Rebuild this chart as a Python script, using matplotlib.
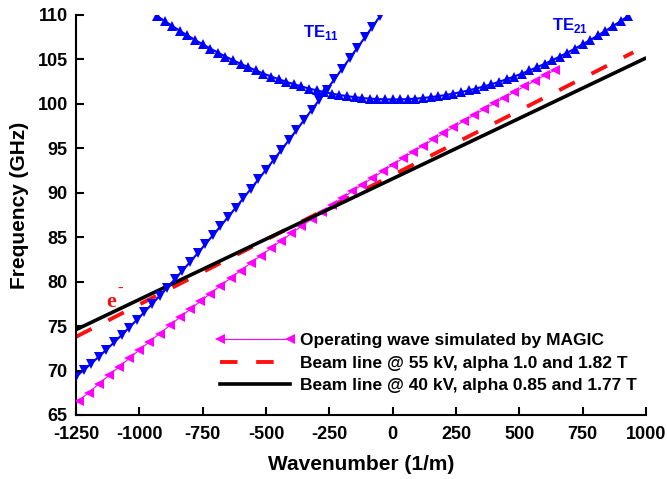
import matplotlib
matplotlib.use("Agg")
import matplotlib.pyplot as plt

plt.rcParams['font.family'] = ['Liberation Sans', 'DejaVu Sans']
plt.rcParams['font.weight'] = 'bold'
plt.rcParams['axes.unicode_minus'] = False
plt.rcParams['mathtext.fontset'] = 'custom'
plt.rcParams['mathtext.rm'] = 'Liberation Sans:bold'
plt.rcParams['mathtext.bf'] = 'Liberation Sans:bold'

# TE11 mode (down triangles)
k_te11 = [-1250, -1220, -1190, -1160, -1130, -1100, -1070, -1040, -1010, -980,
          -950, -920, -890, -860, -830, -800, -770, -740, -710, -680,
          -650, -620, -590, -560, -530, -500, -470, -440, -410, -380,
          -350, -320, -290, -260, -230, -200, -170, -140, -110, -80, -50]
f_te11 = [69.31, 70.04, 70.79, 71.56, 72.35, 73.16, 73.99, 74.84, 75.70, 76.58,
          77.48, 78.40, 79.33, 80.27, 81.23, 82.21, 83.19, 84.19, 85.20, 86.23,
          87.26, 88.31, 89.37, 90.43, 91.51, 92.60, 93.69, 94.80, 95.91, 97.04,
          98.17, 99.31, 100.45, 101.61, 102.77, 103.93, 105.11, 106.29, 107.47, 108.67, 109.87]

# TE21 mode (up triangles)
k_te21 = [-930, -900, -870, -840, -810, -780, -750, -720, -690, -660,
          -630, -600, -570, -540, -510, -480, -450, -420, -390, -360,
          -330, -300, -270, -240, -210, -180, -150, -120, -90, -60, -30,
          0, 30, 60, 90, 120, 150, 180, 210, 240, 270, 300,
          330, 360, 390, 420, 450, 480, 510, 540, 570, 600,
          630, 660, 690, 720, 750, 780, 810, 840, 870, 900, 930]
f_te21 = [109.89, 109.32, 108.76, 108.22, 107.70, 107.19, 106.70, 106.23, 105.77, 105.33,
          104.91, 104.51, 104.13, 103.76, 103.41, 103.08, 102.78, 102.48, 102.21, 101.96,
          101.73, 101.52, 101.33, 101.15, 101.00, 100.87, 100.76, 100.66, 100.59, 100.54, 100.51,
          100.50, 100.51, 100.54, 100.59, 100.66, 100.76, 100.87, 101.00, 101.15, 101.33, 101.52,
          101.73, 101.96, 102.21, 102.48, 102.78, 103.08, 103.41, 103.76, 104.13, 104.51,
          104.91, 105.33, 105.77, 106.23, 106.70, 107.19, 107.70, 108.22, 108.76, 109.32, 109.89]

# operating wave simulated by MAGIC
k_magic = [-1240, -1200, -1160, -1120, -1080, -1040, -1000, -960, -920, -880,
           -840, -800, -760, -720, -680, -640, -600, -560, -520, -480,
           -440, -400, -360, -320, -280, -240, -200, -160, -120, -80,
           -40, 0, 40, 80, 120, 160, 200, 240, 280, 320,
           360, 400, 440, 480, 520, 560, 600, 640]
f_magic = [66.55, 67.53, 68.50, 69.46, 70.42, 71.37, 72.31, 73.24, 74.16, 75.07,
           75.98, 76.88, 77.77, 78.65, 79.53, 80.39, 81.25, 82.10, 82.94, 83.77,
           84.60, 85.42, 86.23, 87.03, 87.82, 88.60, 89.38, 90.15, 90.91, 91.66,
           92.40, 93.14, 93.87, 94.59, 95.30, 96.00, 96.69, 97.38, 98.06, 98.73,
           99.39, 100.05, 100.69, 101.33, 101.96, 102.58, 103.20, 103.80]

# beam lines
k_beam55 = [-1250, 950]
f_beam55 = [73.8, 105.8]
k_beam40 = [-1250, 995]
f_beam40 = [74.6, 105.1]

labels = ['Operating wave simulated by MAGIC',
          'Beam line @ 55 kV, alpha 1.0 and 1.82 T',
          'Beam line @ 40 kV, alpha 0.85 and 1.77 T']

fig = plt.figure(figsize=(6.67, 4.79), dpi=100)
ax = fig.add_axes([76/667, 64/479, 570/667, 400/479])

ax.plot(k_beam55, f_beam55, color='#ff1010', lw=2.8, dashes=(4.5, 4.8), zorder=2, label=labels[1])
ax.plot(k_magic, f_magic, color='#ff00ff', lw=0.8, marker='<', ms=7.5, mew=0, zorder=3, label=labels[0])
ax.plot(k_beam40, f_beam40, color='black', lw=2.6, zorder=4, label=labels[2])
ax.plot(k_te11, f_te11, color='#0000ff', lw=1.5, marker='v', ms=6.8, mew=0, zorder=5)
ax.plot(k_te21, f_te21, color='#0000ff', lw=1.5, marker='^', ms=6.8, mew=0, zorder=5)

ax.set_xlim(-1250, 1000)
ax.set_ylim(65, 110)
ax.set_xticks(range(-1250, 1001, 250))
ax.set_yticks(range(65, 111, 5))
ax.spines['top'].set_visible(False)
ax.spines['right'].set_visible(False)
for s in ['left', 'bottom']:
    ax.spines[s].set_linewidth(1.5)
ax.tick_params(direction='in', length=6, width=1.5, labelsize=13)
ax.tick_params(axis='x', pad=8)
ax.tick_params(axis='y', pad=6)

ax.set_xlabel('Wavenumber (1/m)', fontsize=15, fontweight='bold')
ax.set_ylabel('Frequency (GHz)', fontsize=15, fontweight='bold')
ax.xaxis.set_label_coords(0.5, -0.1)
ax.yaxis.set_label_coords(-0.083, 0.525)

ax.text(-354, 107.5, r'TE$_{11}$', color='#0000ff', fontsize=12, va='baseline', ha='left')
ax.text(629, 108.3, r'TE$_{21}$', color='#0000ff', fontsize=12, va='baseline', ha='left')
ax.text(-1129, 77.15, 'e', color='#ff1010', fontsize=16, family='Liberation Serif',
        fontweight='bold', va='baseline', ha='left')
ax.text(-1088, 79.2, '-', color='#ff1010', fontsize=12, family='Liberation Serif',
        va='center', ha='left')

h, l = ax.get_legend_handles_labels()
order = [1, 0, 2]
leg = fig.legend([h[i] for i in order], [l[i] for i in order],
                 loc='upper left', bbox_to_anchor=(215/667, 1 - 333/479),
                 frameon=False, fontsize=12.5, numpoints=2, handlelength=4.6,
                 handletextpad=0.3, labelspacing=0.42, borderpad=0, borderaxespad=0)

fig.savefig('out.png', dpi=100)
